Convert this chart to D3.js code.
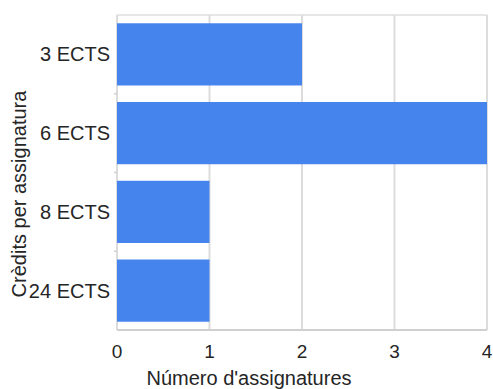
<!DOCTYPE html>
<html>
<head>
<meta charset="utf-8">
<script src="https://cdn.jsdelivr.net/npm/d3@7"></script>
<style>
  html, body { margin: 0; padding: 0; background: #fff; }
  svg { display: block; font-family: Arial, "Liberation Sans", sans-serif; }
</style>
</head>
<body>
<svg id="chart" width="493" height="389"></svg>
<script>
// Credits per subject and how many subjects carry each credit load
const categories = ["3 ECTS", "6 ECTS", "8 ECTS", "24 ECTS"];
const values = [2, 4, 1, 1];
const xTicks = [0, 1, 2, 3, 4];
const xTitle = "Número d'assignatures";
const yTitle = "Crèdits per assignatura";

const svg = d3.select("#chart");
const plot = { left: 117, right: 487, top: 15, bottom: 330 };

const x = d3.scaleLinear().domain([0, 4]).range([plot.left, plot.right]);
const y = d3.scaleBand()
  .domain(categories)
  .range([plot.top, plot.bottom])
  .paddingInner(0.21)
  .paddingOuter(0.105);

const gridColor = "#dcdcdc";
const textColor = "#252525";

// frame: top edge
svg.append("line")
  .attr("x1", plot.left).attr("x2", plot.right)
  .attr("y1", plot.top).attr("y2", plot.top)
  .attr("stroke", "#e6e6e6").attr("stroke-width", 2);

// vertical gridlines
svg.append("g").selectAll("line")
  .data(xTicks)
  .join("line")
  .attr("x1", d => x(d)).attr("x2", d => x(d))
  .attr("y1", plot.top).attr("y2", plot.bottom)
  .attr("stroke", gridColor).attr("stroke-width", 2);

// small ticks between category bands
const bounds = categories.slice(1).map(c => y(c) - y.step() * y.paddingInner() / 2);
svg.append("g").selectAll("line")
  .data(bounds)
  .join("line")
  .attr("x1", plot.left - 3).attr("x2", plot.left)
  .attr("y1", d => d).attr("y2", d => d)
  .attr("stroke", "#d0d0d0").attr("stroke-width", 1.5);

// bars
svg.append("g").selectAll("rect")
  .data(categories.map((c, i) => ({ c, v: values[i] })))
  .join("rect")
  .attr("x", x(0))
  .attr("y", d => y(d.c))
  .attr("width", d => x(d.v) - x(0))
  .attr("height", y.bandwidth())
  .attr("fill", "#4584ec");

// baseline at the bottom
svg.append("line")
  .attr("x1", plot.left).attr("x2", plot.right)
  .attr("y1", plot.bottom).attr("y2", plot.bottom)
  .attr("stroke", "#d0d0d0").attr("stroke-width", 2);

// category labels
svg.append("g").selectAll("text")
  .data(categories)
  .join("text")
  .attr("x", 110)
  .attr("y", d => y(d) + y.bandwidth() / 2 + 7)
  .attr("text-anchor", "end")
  .attr("font-size", 20)
  .attr("fill", textColor)
  .text(d => d);

// value tick labels
svg.append("g").selectAll("text")
  .data(xTicks)
  .join("text")
  .attr("x", d => x(d))
  .attr("y", 358)
  .attr("text-anchor", "middle")
  .attr("font-size", 19)
  .attr("fill", textColor)
  .text(d => d);

// axis titles
svg.append("text")
  .attr("x", 249).attr("y", 385)
  .attr("text-anchor", "middle")
  .attr("font-size", 20)
  .attr("fill", textColor)
  .text(xTitle);

svg.append("text")
  .attr("transform", "translate(26,194) rotate(-90)")
  .attr("text-anchor", "middle")
  .attr("font-size", 20)
  .attr("fill", textColor)
  .text(yTitle);
</script>
</body>
</html>
